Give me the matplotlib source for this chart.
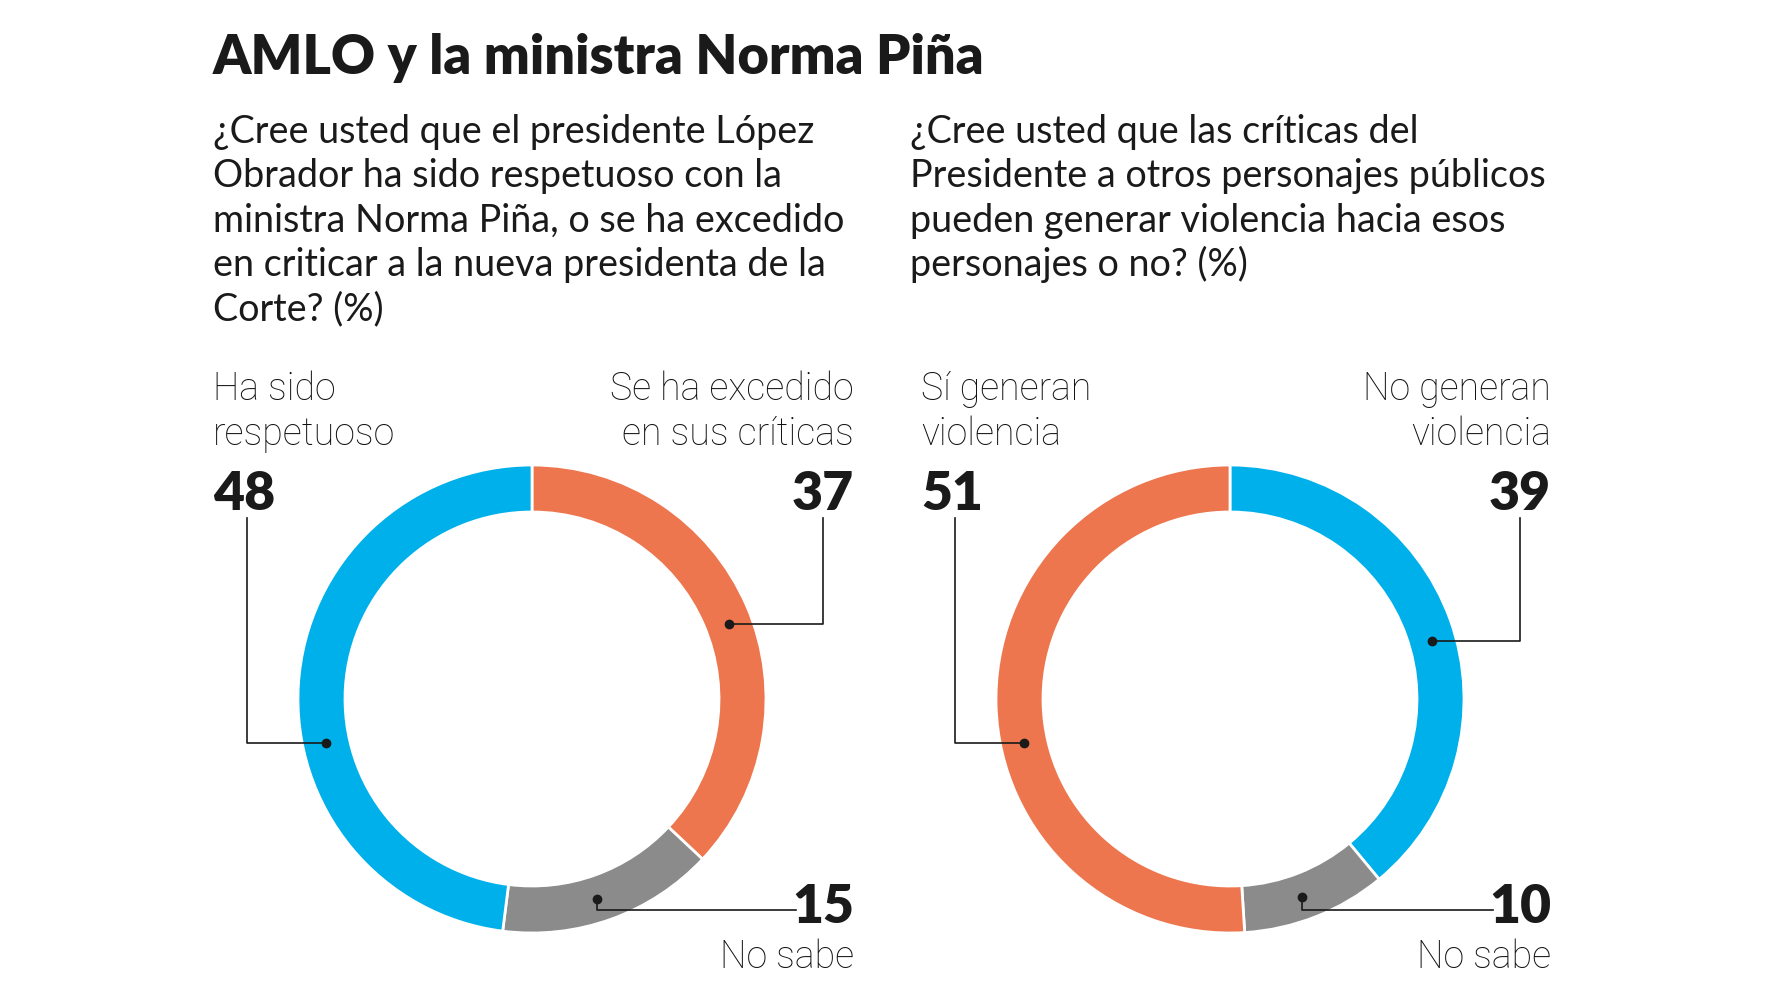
import numpy as np
import matplotlib.pyplot as plt

# datos de la encuesta
title = "AMLO y la ministra Norma Piña"

q1_lines = ["¿Cree usted que el presidente López",
            "Obrador ha sido respetuoso con la",
            "ministra Norma Piña, o se ha excedido",
            "en criticar a la nueva presidenta de la",
            "Corte? (%)"]
q2_lines = ["¿Cree usted que las críticas del",
            "Presidente a otros personajes públicos",
            "pueden generar violencia hacia esos",
            "personajes o no? (%)"]

# orden en el sentido del reloj desde arriba
q1_labels = [["Se ha excedido", "en sus críticas"], ["No sabe"], ["Ha sido", "respetuoso"]]
q1_values = [37, 15, 48]
q2_labels = [["No generan", "violencia"], ["No sabe"], ["Sí generan", "violencia"]]
q2_values = [39, 10, 51]

BLUE = "#00b0ea"
ORANGE = "#ee764f"
GREY = "#8b8b8b"
INK = "#1a1a1a"
q1_colors = [ORANGE, GREY, BLUE]
q2_colors = [BLUE, GREY, ORANGE]

W, H = 1776, 1000
plt.rcParams['font.family'] = ['Lato', 'DejaVu Sans']

fig = plt.figure(figsize=(W / 100, H / 100), dpi=100)
ax = fig.add_axes([0, 0, 1, 1])


def Y(y):
    # pasar de coordenadas de imagen (arriba=0) a coordenadas del eje
    return H - y


R_OUT = 234
RING = 47
R_MID = R_OUT - RING / 2
LBL = 27
NUM = 38.5


def label(x, y, lines, ha):
    for i, s in enumerate(lines):
        ax.text(x, Y(y + i * 45), s, ha=ha, va="baseline", fontsize=LBL,
                family=["Roboto", "Lato"], fontweight="light", color="#111111")


def donut(cx, cy, values, colors, labels, dot_angles, xl, xr):
    ax.pie(values, colors=colors, startangle=90, counterclock=False,
           radius=R_OUT, center=(cx, Y(cy)),
           wedgeprops=dict(width=RING, edgecolor="white", linewidth=2))

    # punto de cada segmento
    pts = []
    for a in dot_angles:
        t = np.deg2rad(a)
        px, py = cx + R_MID * np.cos(t), Y(cy) + R_MID * np.sin(t)
        pts.append((px, py))
        ax.plot(px, py, "o", color=INK, ms=6, zorder=5)

    # segmento 0: arriba a la derecha
    px, py = pts[0]
    label(xr, 400, labels[0], "right")
    ax.text(xr, Y(510), str(values[0]), ha="right", va="baseline",
            fontsize=NUM, fontweight="heavy", color=INK)
    vx = xr - 31
    ax.plot([vx, vx, px], [Y(518), py, py], color=INK, lw=1.2)

    # segmento 2: izquierda
    px, py = pts[2]
    label(xl, 400, labels[2], "left")
    ax.text(xl, Y(510), str(values[2]), ha="left", va="baseline",
            fontsize=NUM, fontweight="heavy", color=INK)
    vx = xl + 34
    ax.plot([vx, vx, px], [Y(518), py, py], color=INK, lw=1.2)

    # segmento 1: "No sabe" abajo
    px, py = pts[1]
    ax.text(xr, Y(923), str(values[1]), ha="right", va="baseline",
            fontsize=NUM, fontweight="heavy", color=INK)
    label(xr, 968, labels[1], "right")
    ax.plot([px, px, xr - 58], [py, Y(910), Y(910)], color=INK, lw=1.2)


donut(532, 699, q1_values, q1_colors, q1_labels, [21, -72, 192], 213, 854)
donut(1230, 699, q2_values, q2_colors, q2_labels, [16, -70, 192], 921, 1551)

ax.text(213, Y(74), title, ha="left", va="baseline", fontsize=39,
        fontweight="heavy", color=INK)
for i, line in enumerate(q1_lines):
    ax.text(213, Y(143 + i * 44.4), line, ha="left", va="baseline",
            fontsize=27.2, color=INK)
for i, line in enumerate(q2_lines):
    ax.text(910, Y(143 + i * 44.4), line, ha="left", va="baseline",
            fontsize=27.2, color=INK)

ax.set_xlim(0, W)
ax.set_ylim(0, H)
ax.set_aspect("equal")
ax.axis("off")

fig.savefig("out.png", dpi=100, facecolor="white")
